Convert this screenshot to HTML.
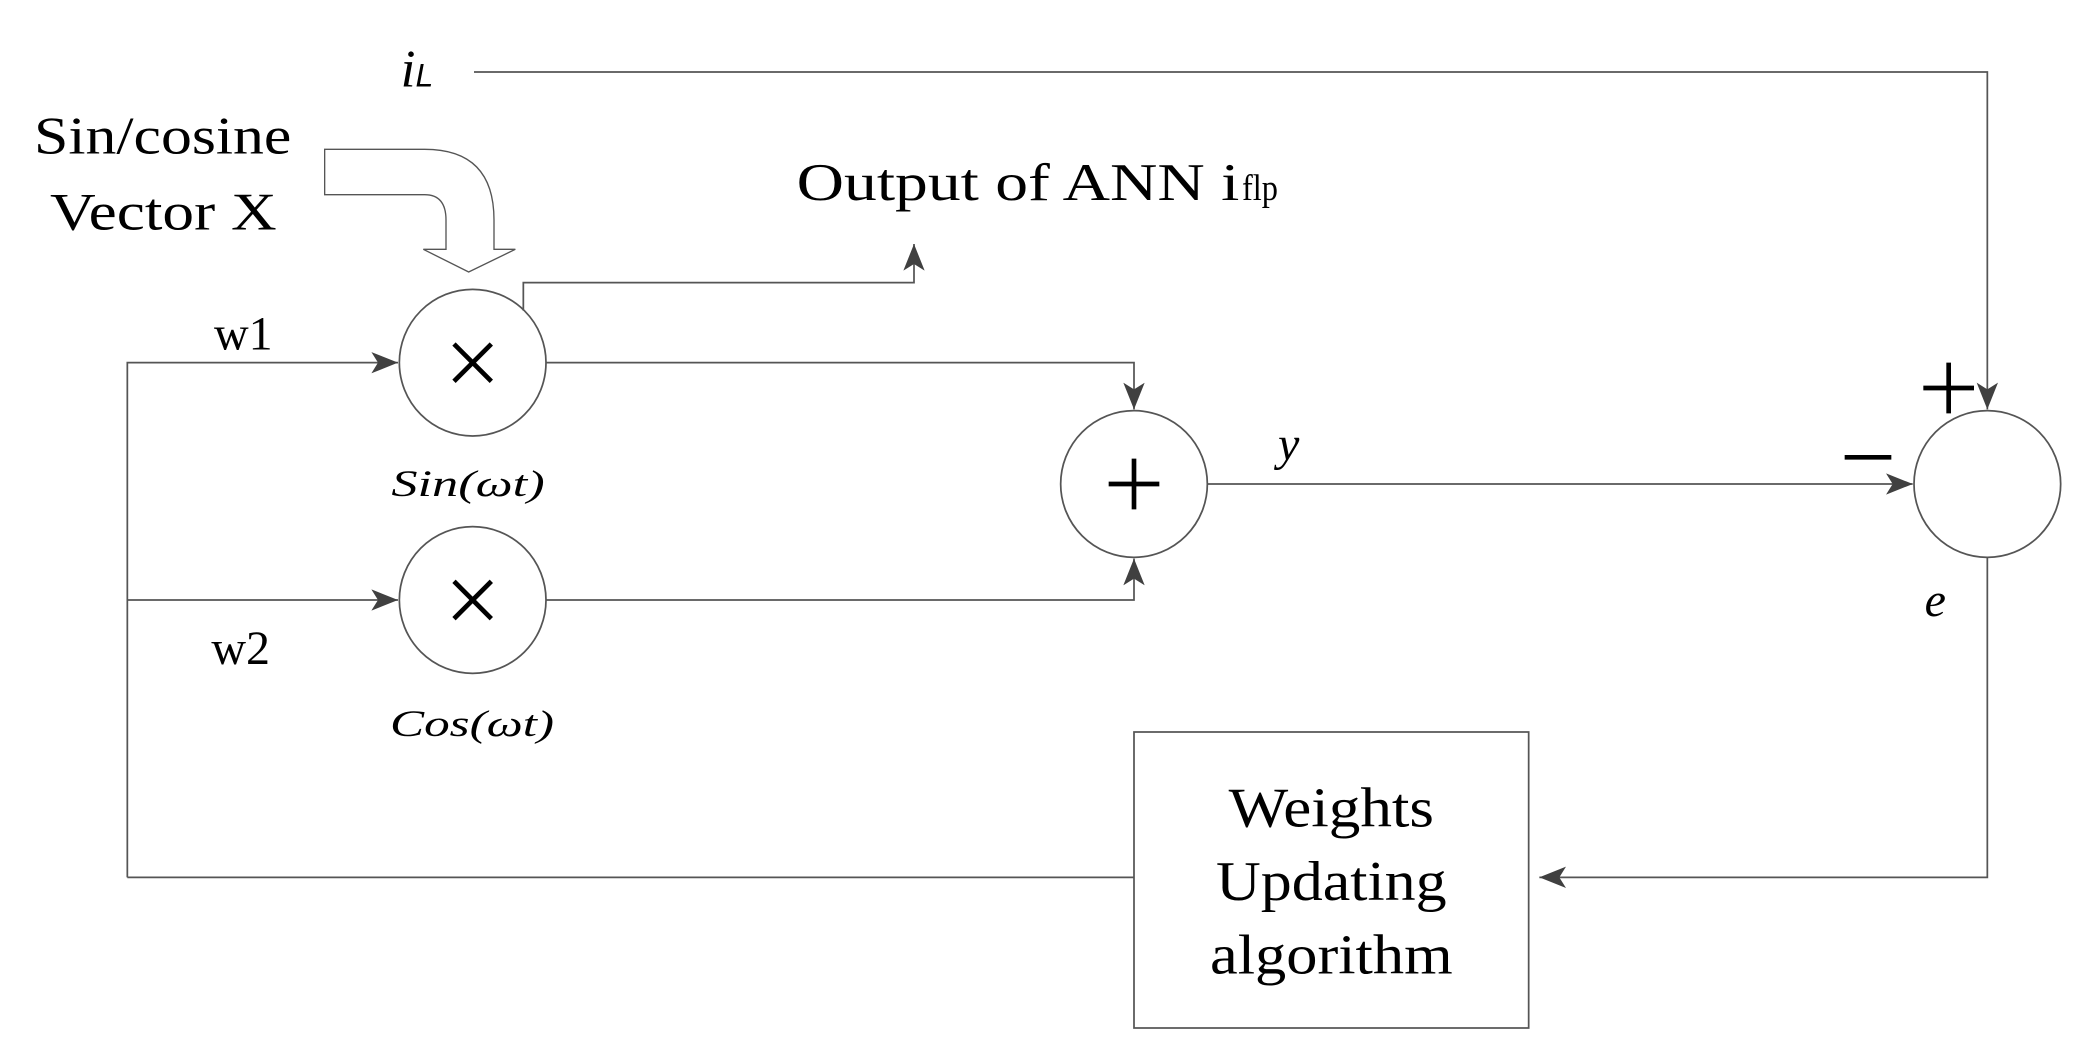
<!DOCTYPE html>
<html><head><meta charset="utf-8"><style>html,body{margin:0;padding:0;background:#fff}svg{display:block}</style></head>
<body>
<svg width="2092" height="1060" viewBox="0 0 1568 795" xmlns="http://www.w3.org/2000/svg">
<defs>
<marker id="a" viewBox="0 0 20 16" refX="20" refY="8" markerWidth="20" markerHeight="16" markerUnits="userSpaceOnUse" orient="auto">
<path d="M0,0 L20,8 L0,16 L5,8 Z" fill="#404040"/></marker>
</defs>
<g fill="none" stroke="#555" stroke-width="1.3">
<!-- iL line -->
<polyline points="355,54 1490,54 1490,307" marker-end="url(#a)"/>
<!-- block arrow -->
<path d="M243,112 L318,112 Q370,112 370,165 L370,187 L386,187 L351,204 L317,187 L334,187 L334,165 Q334,146 318,146 L243,146 Z" stroke-width="1"/>
<!-- circles -->
<circle cx="354" cy="272" r="55"/>
<circle cx="354" cy="450" r="55"/>
<circle cx="850" cy="363" r="55"/>
<circle cx="1490" cy="363" r="55"/>
<!-- output -->
<polyline points="392,233 392,212 685,212 685,183" marker-end="url(#a)"/>
<!-- inputs -->
<polyline points="95,658 95,272 298,272" marker-end="url(#a)"/>
<polyline points="95,450 298,450" marker-end="url(#a)"/>
<polyline points="409,272 850,272 850,307" marker-end="url(#a)"/>
<polyline points="409,450 850,450 850,419" marker-end="url(#a)"/>
<polyline points="905,363 1434,363" marker-end="url(#a)"/>
<polyline points="1490,418 1490,658 1154,658" marker-end="url(#a)"/>
<line x1="850" y1="658" x2="95" y2="658"/>
<rect x="850" y="549" width="296" height="222"/>
</g>
<g font-family="Liberation Serif, serif" fill="#000">
<text x="300" y="65" font-size="40" font-style="italic">i<tspan font-family="Liberation Sans, sans-serif" font-size="24">L</tspan></text>
<text x="25" y="115" font-size="40" textLength="193" lengthAdjust="spacingAndGlyphs">Sin/cosine</text>
<text x="37" y="172" font-size="40" textLength="170" lengthAdjust="spacingAndGlyphs">Vector X</text>
<text x="597" y="150" font-size="40" textLength="332" lengthAdjust="spacingAndGlyphs">Output of ANN i</text>
<text x="931" y="150" font-size="28" textLength="27" lengthAdjust="spacingAndGlyphs">flp</text>
<text x="160" y="262" font-size="36">w1</text>
<text x="158" y="498" font-size="36">w2</text>
<text x="293" y="372" font-size="28" font-style="italic" textLength="115" lengthAdjust="spacingAndGlyphs">Sin(ωt)</text>
<text x="292" y="552" font-size="28" font-style="italic" textLength="123" lengthAdjust="spacingAndGlyphs">Cos(ωt)</text>
<text x="958" y="345" font-size="36" font-style="italic">y</text>
<text x="1443" y="462" font-size="36" font-style="italic">e</text>
<text x="998" y="620" font-size="42" text-anchor="middle" textLength="154" lengthAdjust="spacingAndGlyphs">Weights</text>
<text x="998" y="675" font-size="42" text-anchor="middle" textLength="173" lengthAdjust="spacingAndGlyphs">Updating</text>
<text x="998" y="730" font-size="42" text-anchor="middle" textLength="182" lengthAdjust="spacingAndGlyphs">algorithm</text>
</g>
<g stroke="#000" stroke-width="3.5">
<line x1="340" y1="258" x2="368" y2="286"/><line x1="368" y1="258" x2="340" y2="286"/>
<line x1="340" y1="436" x2="368" y2="464"/><line x1="368" y1="436" x2="340" y2="464"/>
<line x1="831" y1="363" x2="869" y2="363"/><line x1="850" y1="344" x2="850" y2="382"/>
<line x1="1442" y1="291" x2="1480" y2="291"/><line x1="1461" y1="272" x2="1461" y2="310"/>
<line x1="1383" y1="343" x2="1418" y2="343"/>
</g>
</svg>
</body></html>
